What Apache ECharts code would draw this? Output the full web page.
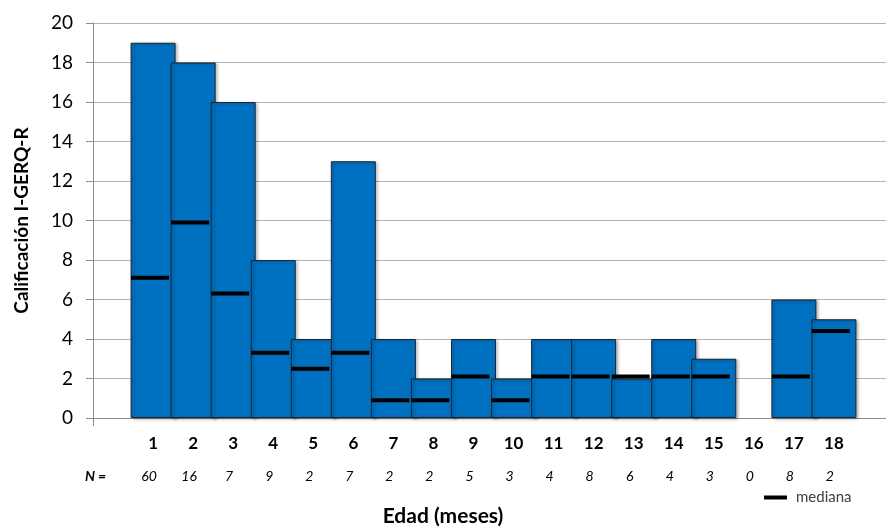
<!DOCTYPE html>
<html>
<head>
<meta charset="utf-8">
<script src="https://cdn.jsdelivr.net/npm/echarts@6/dist/echarts.min.js"></script>
<style>html,body{margin:0;padding:0;background:#fff;}#c{width:886px;height:532px;}</style>
</head>
<body>
<div id="c"></div>
<script>
const ages = ['1','2','3','4','5','6','7','8','9','10','11','12','13','14','15','16','17','18'];
const scores = [19,18,16,8,4,13,4,2,4,2,4,4,2,4,3,null,6,5];
const medians = [7.1,9.9,6.3,3.3,2.5,3.3,0.9,0.9,2.1,0.9,2.1,2.1,2.1,2.1,2.1,null,2.1,4.4];
const nCounts = ['60','16','7','9','2','7','2','2','5','3','4','8','6','4','3','0','8','2'];
const yTicks = {min:0, max:20, interval:2};

const FONT = 'Lato, "Open Sans", sans-serif';
const pad = arr => [''].concat(arr, ['']);
const padV = arr => ['-'].concat(arr.map(v => v === null ? '-' : v), ['-']);

const chart = echarts.init(document.getElementById('c'), null, {renderer:'canvas'});
chart.setOption({
  animation:false,
  textStyle:{fontFamily:FONT},
  grid:[
    {left:93, width:801, top:23, bottom:114, outerBoundsMode:'none', containLabel:false},
    {left:89, width:801, top:23, bottom:114, outerBoundsMode:'none', containLabel:false}
  ],
  legend:{
    left:764, top:490, padding:0, itemWidth:23, itemHeight:4, itemGap:5,
    data:[{name:'mediana', icon:'rect', itemStyle:{color:'#000', opacity:1}}],
    textStyle:{fontFamily:FONT, fontSize:15, color:'#404040', padding:[0,0,0,4]}
  },
  xAxis:[
    {
      type:'category', gridIndex:0, data:pad(ages), boundaryGap:true,
      axisLine:{lineStyle:{color:'#8c8c8c', width:1}},
      axisTick:{show:true, length:8, interval:(i)=>i===0, lineStyle:{color:'#8c8c8c'}},
      axisLabel:{interval:0, margin:17, fontFamily:FONT, fontSize:17, fontWeight:'bold', color:'#000'}
    },
    {
      type:'category', gridIndex:1, data:pad(nCounts), boundaryGap:true,
      axisLine:{show:false}, axisTick:{show:false},
      axisLabel:{interval:0, margin:51, fontFamily:FONT, fontSize:14, fontStyle:'italic', color:'#000'}
    }
  ],
  yAxis:[
    {
      type:'value', gridIndex:0, min:yTicks.min, max:yTicks.max, interval:yTicks.interval,
      name:'Calificación I-GERQ-R', nameLocation:'middle', nameGap:62,
      nameTextStyle:{fontFamily:FONT, fontSize:19, fontWeight:'bold', color:'#000'},
      axisLine:{show:true, lineStyle:{color:'#8c8c8c', width:1}},
      axisTick:{show:true, length:7, lineStyle:{color:'#8c8c8c'}},
      axisLabel:{margin:20, fontFamily:FONT, fontSize:19, color:'#000'},
      splitLine:{lineStyle:{color:'#b4b4b4', width:1}}
    },
    {type:'value', gridIndex:1, min:0, max:20, show:false}
  ],
  graphic:[
    {type:'text', left:85, top:469, style:{text:'N =', font:'italic bold 14px '+FONT, fill:'#000'}},
    {type:'text', left:'center', top:506, style:{text:'Edad (meses)', font:'bold 21px '+FONT, fill:'#000'}, x:-9}
  ],
  series:[
    {
      type:'bar', name:'calificacion', xAxisIndex:0, yAxisIndex:0,
      data:padV(scores), barWidth:45,
      itemStyle:{color:'#0070C0', borderColor:'#1a2530', borderWidth:1,
        shadowColor:'rgba(0,0,0,0.3)', shadowBlur:3, shadowOffsetX:2, shadowOffsetY:1}
    },
    {
      type:'scatter', name:'mediana', xAxisIndex:0, yAxisIndex:0,
      data:padV(medians), symbol:'rect', symbolSize:[38,4], symbolOffset:[-3,0],
      itemStyle:{color:'#000', opacity:1}, z:5
    }
  ]
});
</script>
</body>
</html>
